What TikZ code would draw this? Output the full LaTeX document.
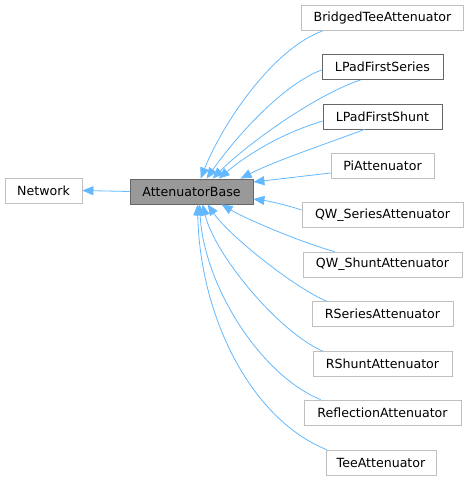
\documentclass[tikz,border=0pt]{standalone}
\usepackage{fontspec}
\setmainfont{DejaVu Sans}
\usetikzlibrary{arrows.meta}
\definecolor{edgeblue}{HTML}{63B8FF}
\definecolor{lightframe}{HTML}{BFBFBF}
\definecolor{darkframe}{HTML}{666666}
\definecolor{basefill}{HTML}{999999}
\begin{document}
\begin{tikzpicture}[x=1pt,y=-1pt,
    cls/.style={draw=lightframe,line width=0.8pt,minimum height=25pt,inner sep=0pt,font=\fontsize{12.6}{15}\selectfont},
    doccls/.style={cls,draw=darkframe},
    basecls/.style={doccls,fill=basefill},
    inherit/.style={draw=edgeblue,line width=0.8pt,-{Triangle[length=11pt,width=9pt]}}]
    \useasboundingbox (0,0) rectangle (469,480);
    \node [cls,minimum width=77pt] (net) at (43.5,190.5) {Network};
    \node [basecls,minimum width=123pt] (ab) at (191.5,191.5) {AttenuatorBase};
    \node [cls,minimum width=162pt] (bt) at (382.5,18) {BridgedTeeAttenuator};
    \node [doccls,minimum width=121pt] (lfs) at (382.5,67) {LPadFirstSeries};
    \node [doccls,minimum width=119pt] (lfh) at (382.5,116.5) {LPadFirstShunt};
    \node [cls,minimum width=103pt] (pi) at (382.5,165.5) {PiAttenuator};
    \node [cls,minimum width=161pt] (qws) at (382.5,215) {QW\_SeriesAttenuator};
    \node [cls,minimum width=159pt] (qwh) at (382.5,264.5) {QW\_ShuntAttenuator};
    \node [cls,minimum width=141pt] (rse) at (382.5,314) {RSeriesAttenuator};
    \node [cls,minimum width=139pt] (rsh) at (382.5,364) {RShuntAttenuator};
    \node [cls,minimum width=157pt] (ref) at (382.5,412.5) {ReflectionAttenuator};
    \node [cls,minimum width=110pt] (tee) at (381,462.5) {TeeAttenuator};
    \draw [inherit] (ab.west) -- (net.east);
    \draw [inherit] ([xshift=21.5pt]bt.south west) .. controls +(-50,18) and +(22,-55) .. ([xshift=71pt]ab.north west);
    \draw [inherit] ([yshift=-3pt]lfs.west) .. controls +(-40,15) and +(28,-40) .. ([xshift=77pt]ab.north west);
    \draw [inherit] ([xshift=39pt]lfs.south west) .. controls +(-45,15) and +(35,-35) .. ([xshift=83pt]ab.north west);
    \draw [inherit] ([yshift=-4.5pt]lfh.west) .. controls +(-40,12) and +(30,-25) .. ([xshift=89pt]ab.north west);
    \draw [inherit] ([xshift=42pt]lfh.south west) .. controls +(-40,15) and +(35,-18) .. ([xshift=111pt]ab.north west);
    \draw [inherit] ([yshift=-7.5pt]pi.west) -- ([yshift=9.5pt]ab.east);
    \draw [inherit] ([yshift=5pt]qws.west) .. controls +(-15,-5) and +(15,2) .. ([yshift=-7.5pt]ab.east);
    \draw [inherit] ([xshift=32pt]qwh.north west) .. controls +(-30,-8) and +(25,15) .. ([xshift=92pt]ab.south west);
    \draw [inherit] ([xshift=15pt]rse.north west) .. controls +(-30,-12) and +(22,32) .. ([xshift=78pt]ab.south west);
    \draw [inherit] ([xshift=10pt]rsh.north west) .. controls +(-45,-20) and +(12,50) .. ([xshift=73pt]ab.south west);
    \draw [inherit] ([xshift=17pt]ref.north west) .. controls +(-61,-25) and +(4,80) .. ([xshift=70pt]ab.south west);
    \draw [inherit] ([xshift=1pt]tee.north west) .. controls +(-77,-31) and +(2,110) .. ([xshift=68pt]ab.south west);
\end{tikzpicture}
\end{document}
